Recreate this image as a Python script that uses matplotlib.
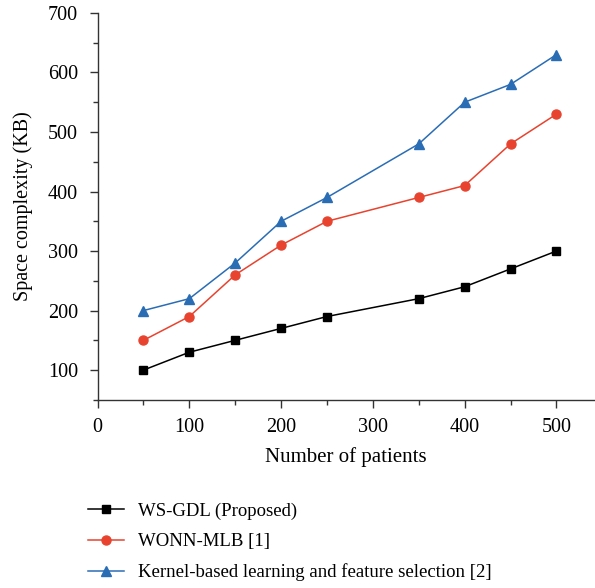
import matplotlib
matplotlib.use("Agg")
import matplotlib.pyplot as plt
from matplotlib.ticker import MultipleLocator

plt.rcParams['font.family'] = ['Liberation Serif', 'DejaVu Serif']

patients = [50, 100, 150, 200, 250, 350, 400, 450, 500]
ws_gdl = [100, 130, 150, 170, 190, 220, 240, 270, 300]
wonn_mlb = [150, 190, 260, 310, 350, 390, 410, 480, 530]
kernel = [200, 220, 280, 350, 390, 480, 550, 580, 630]
labels = ["WS-GDL (Proposed)", "WONN-MLB [1]",
          "Kernel-based learning and feature selection [2]"]

fig = plt.figure(figsize=(5.95, 5.88), dpi=100)
ax = fig.add_axes([0.164, 0.320, 0.836, 0.658])

ax.plot(patients, ws_gdl, color='black', marker='s', markersize=6, lw=1.1, label=labels[0])
ax.plot(patients, wonn_mlb, color='#e8432e', marker='o', markersize=6.5, lw=1.1, label=labels[1])
ax.plot(patients, kernel, color='#2a6db5', marker='^', markersize=7, lw=1.1, label=labels[2])

ax.set_xlim(0, 542)
ax.set_ylim(50, 700)
ax.xaxis.set_major_locator(MultipleLocator(100))
ax.xaxis.set_minor_locator(MultipleLocator(50))
ax.yaxis.set_minor_locator(MultipleLocator(50))
ax.set_yticks([100, 200, 300, 400, 500, 600, 700])
for s in ['top', 'right']:
    ax.spines[s].set_visible(False)
for s in ['left', 'bottom']:
    ax.spines[s].set_linewidth(1.0)
    ax.spines[s].set_color('#333333')
ax.tick_params(which='major', direction='out', length=6, width=1, labelsize=14.5, color='#333333')
ax.tick_params(which='minor', direction='out', length=3.5, width=1, color='#333333')
ax.tick_params(axis='x', pad=7)
ax.tick_params(axis='y', pad=8)
ax.set_xlabel("Number of patients", fontsize=15, labelpad=7)
ax.set_ylabel("Space complexity (KB)", fontsize=14.5, labelpad=11)

fig.legend(loc='upper left', bbox_to_anchor=(0.135, 0.158), frameon=False,
           fontsize=13.5, handlelength=1.95, labelspacing=0.7, borderaxespad=0,
           handletextpad=0.75)

fig.savefig("out.png", dpi=100)
